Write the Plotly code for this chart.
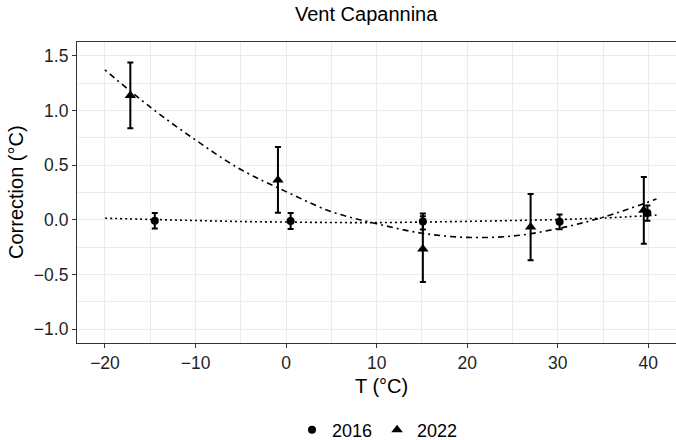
import plotly.graph_objects as go

# ---- data ----
t2016 = [-14.5, 0.5, 15.1, 30.2, 39.9]
c2016 = [-0.008, -0.010, -0.015, -0.018, 0.062]
e2016 = [0.070, 0.073, 0.072, 0.068, 0.070]

t2022 = [-17.2, -0.9, 15.1, 27.0, 39.5]
c2022 = [1.137, 0.365, -0.267, -0.066, 0.087]
e2022 = [0.300, 0.300, 0.300, 0.302, 0.305]

fit_x = [-20, -15, -10, -5, 0, 5, 10, 15, 20, 25, 30, 35, 40.9]
fit2016 = [0.015, 0.004, -0.006, -0.015, -0.020, -0.024, -0.025, -0.020,
           -0.014, -0.006, 0.003, 0.017, 0.043]
fit2022 = [1.37, 1.03, 0.73, 0.46, 0.258, 0.075, -0.035, -0.122,
           -0.160, -0.148, -0.080, 0.024, 0.19]

xticks = [-20, -10, 0, 10, 20, 30, 40]
xticktext = ["\u221220", "\u221210", "0", "10", "20", "30", "40"]
yticks = [-1.0, -0.5, 0.0, 0.5, 1.0, 1.5]
yticktext = ["\u22121.0", "\u22120.5", "0.0", "0.5", "1.0", "1.5"]

FONT = "Liberation Sans, Arial, Helvetica, sans-serif"
# the reference panel runs past the right edge of the 676px picture
W, H = 690, 440
L, R, T = 77, 0, 42
B = H - 343

fig = go.Figure()

fig.add_trace(go.Scatter(x=fit_x, y=fit2016, mode="lines", line_shape="spline",
                         line=dict(color="black", width=1.6, dash="2px,3px"),
                         showlegend=False, hoverinfo="skip"))
fig.add_trace(go.Scatter(x=fit_x, y=fit2022, mode="lines", line_shape="spline",
                         line=dict(color="black", width=1.6, dash="2px,4px,6px,4px"),
                         showlegend=False, hoverinfo="skip"))

fig.add_trace(go.Scatter(x=t2016, y=c2016, mode="markers", name="2016",
                         marker=dict(symbol="circle", size=8, color="black"),
                         error_y=dict(type="data", array=e2016, color="black",
                                      thickness=2, width=3)))
fig.add_trace(go.Scatter(x=t2022, y=c2022, mode="markers", name="2022",
                         marker=dict(symbol="triangle-up", size=10, color="black"),
                         error_y=dict(type="data", array=e2022, color="black",
                                      thickness=2, width=3)))

axis_common = dict(
    showline=True, linecolor="#333333", linewidth=1.2,
    ticks="outside", ticklen=4, tickcolor="#333333", tickwidth=1,
    showgrid=True, gridcolor="#EBEBEB", gridwidth=1.3,
    zeroline=False, automargin=False,
    tickfont=dict(family=FONT, size=17.5, color="#1f1f1f"),
)

fig.update_xaxes(range=[-23.09, 44.6], tickvals=xticks, ticktext=xticktext,
                 mirror=True,
                 minor=dict(dtick=5, tick0=-25, showgrid=True, gridcolor="#EBEBEB",
                            gridwidth=0.7, ticks=""),
                 **axis_common)
fig.update_yaxes(range=[-1.125, 1.625], tickvals=yticks, ticktext=yticktext,
                 minor=dict(dtick=0.25, tick0=-1.25, showgrid=True, gridcolor="#EBEBEB",
                            gridwidth=0.7, ticks=""),
                 **axis_common)

pw = W - L - R
ph = H - T - B


def px(xs):
    return (xs - L) / pw


def py(ys):
    return 1 - (ys - T) / ph


fig.update_layout(
    width=W, height=H,
    margin=dict(l=L, r=R, t=T, b=B, pad=0, autoexpand=False),
    plot_bgcolor="white", paper_bgcolor="white",
    font=dict(family=FONT, color="black"),
    legend=dict(orientation="h", xref="container", yref="container",
                x=292 / W, y=1 - 430 / H, xanchor="left", yanchor="middle",
                font=dict(family=FONT, size=18, color="black"),
                itemwidth=30, bgcolor="rgba(0,0,0,0)"),
    annotations=[
        dict(text="Vent Capannina", xref="paper", yref="paper",
             x=px(366), y=py(14), xanchor="center", yanchor="middle",
             showarrow=False, font=dict(family=FONT, size=20, color="black")),
        dict(text="T (\u00b0C)", xref="paper", yref="paper",
             x=px(381), y=py(386), xanchor="center", yanchor="middle",
             showarrow=False, font=dict(family=FONT, size=20, color="black")),
        dict(text="Correction (\u00b0C)", xref="paper", yref="paper",
             x=px(16), y=py(192), xanchor="center", yanchor="middle",
             textangle=-90, showarrow=False,
             font=dict(family=FONT, size=20, color="black")),
    ],
)

fig.write_html("out.html",
               config={"displayModeBar": False},
               post_script="document.body.style.margin='0';"
                           "document.body.style.overflow='hidden';")
